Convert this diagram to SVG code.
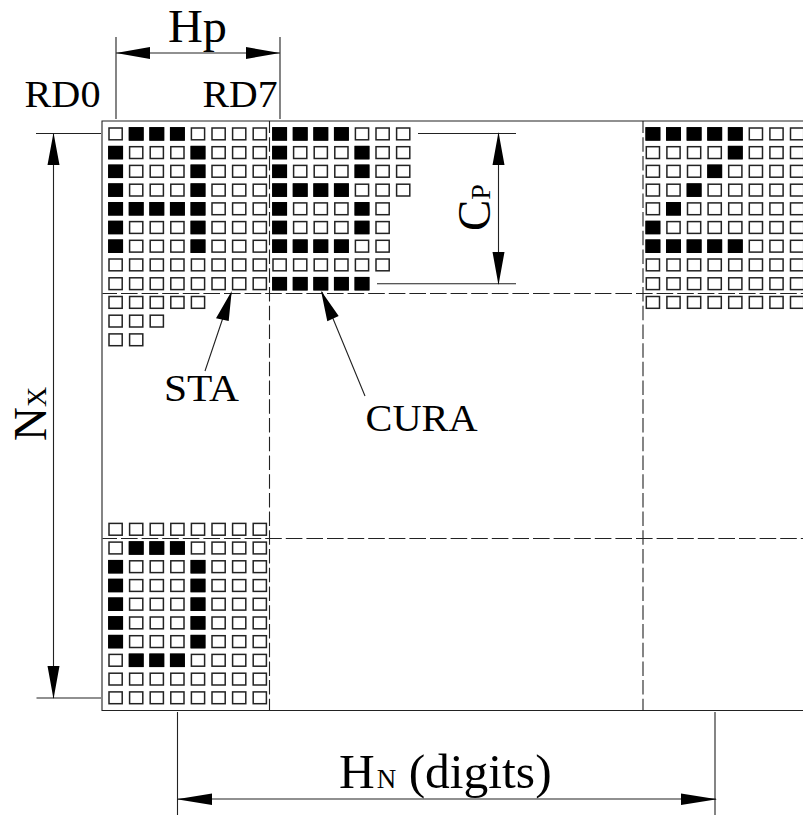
<svg xmlns="http://www.w3.org/2000/svg" width="803" height="815" viewBox="0 0 803 815">
<style>
text{font-family:"Liberation Serif","Times New Roman",serif;fill:#000}
.t{font-size:38px}
.e{fill:#fff;stroke:#222;stroke-width:1.5}
.k{fill:#000;stroke:#000;stroke-width:1.8}
.l{fill:none;stroke:#222;stroke-width:1.1}
.d{stroke-dasharray:16.6 4;stroke-dashoffset:2.1}
.v{stroke-dasharray:14.5 4.22;stroke-dashoffset:2.5}
.a{fill:#000;stroke:none}
</style>
<defs>
<rect id="c" class="e" width="13.2" height="11.8"/>
<rect id="f" class="k" width="13.2" height="11.8"/>
<g id="r2"><use href="#c"/><use href="#c" x="20.6"/></g>
<g id="r3"><use href="#r2"/><use href="#c" x="41.2"/></g>
<g id="r5"><use href="#r3"/><use href="#c" x="61.8"/><use href="#c" x="82.4"/></g>
<g id="r6"><use href="#r5"/><use href="#c" x="103"/></g>
<g id="r7"><use href="#r6"/><use href="#c" x="123.6"/></g>
<g id="r8"><use href="#r7"/><use href="#c" x="144.2"/></g>
</defs>
<rect width="803" height="815" fill="#fff"/>
<g id="frame">
<path class="l" d="M803 121H102V710.5H803"/>
</g>
<g id="block-sta" transform="translate(109,128)">
<use href="#r8"/><use href="#r8" y="18.7"/><use href="#r8" y="37.4"/><use href="#r8" y="56.2"/><use href="#r8" y="74.9"/><use href="#r8" y="93.6"/><use href="#r8" y="112.3"/><use href="#r8" y="131"/><use href="#r8" y="149.8"/>
<use href="#r5" y="168.5"/><use href="#r3" y="187.2"/><use href="#r2" y="205.9"/>
<use href="#f" x="20.6"/><use href="#f" x="41.2"/><use href="#f" x="61.8"/>
<use href="#f" y="18.7"/><use href="#f" x="82.4" y="18.7"/>
<use href="#f" y="37.4"/><use href="#f" x="82.4" y="37.4"/>
<use href="#f" y="56.2"/><use href="#f" x="82.4" y="56.2"/>
<use href="#f" y="74.9"/><use href="#f" x="20.6" y="74.9"/><use href="#f" x="41.2" y="74.9"/><use href="#f" x="61.8" y="74.9"/><use href="#f" x="82.4" y="74.9"/>
<use href="#f" y="93.6"/><use href="#f" x="82.4" y="93.6"/>
<use href="#f" y="112.3"/><use href="#f" x="82.4" y="112.3"/>
</g>
<g id="block-cura" transform="translate(273,128)">
<use href="#r7"/><use href="#r7" y="18.7"/><use href="#r7" y="37.4"/><use href="#r7" y="56.2"/><use href="#r6" y="74.9"/><use href="#r6" y="93.6"/><use href="#r6" y="112.3"/><use href="#r6" y="131"/><use href="#r5" y="149.8"/>
<use href="#f"/><use href="#f" x="20.6"/><use href="#f" x="41.2"/><use href="#f" x="61.8"/>
<use href="#f" y="18.7"/><use href="#f" x="82.4" y="18.7"/>
<use href="#f" y="37.4"/><use href="#f" x="82.4" y="37.4"/>
<use href="#f" y="56.2"/><use href="#f" x="20.6" y="56.2"/><use href="#f" x="41.2" y="56.2"/><use href="#f" x="61.8" y="56.2"/>
<use href="#f" y="74.9"/><use href="#f" x="82.4" y="74.9"/>
<use href="#f" y="93.6"/><use href="#f" x="82.4" y="93.6"/>
<use href="#f" y="112.3"/><use href="#f" x="20.6" y="112.3"/><use href="#f" x="41.2" y="112.3"/><use href="#f" x="61.8" y="112.3"/>
<use href="#f" y="149.8"/><use href="#f" x="20.6" y="149.8"/><use href="#f" x="41.2" y="149.8"/><use href="#f" x="61.8" y="149.8"/><use href="#f" x="82.4" y="149.8"/>
</g>
<g id="block-z" transform="translate(646.3,128)">
<use href="#r8"/><use href="#r8" y="18.7"/><use href="#r8" y="37.4"/><use href="#r8" y="56.2"/><use href="#r8" y="74.9"/><use href="#r8" y="93.6"/><use href="#r8" y="112.3"/><use href="#r8" y="131"/><use href="#r8" y="149.8"/><use href="#r8" y="168.5"/>
<use href="#f"/><use href="#f" x="20.6"/><use href="#f" x="41.2"/><use href="#f" x="61.8"/><use href="#f" x="82.4"/>
<use href="#f" x="82.4" y="18.7"/>
<use href="#f" x="61.8" y="37.4"/>
<use href="#f" x="41.2" y="56.2"/>
<use href="#f" x="20.6" y="74.9"/>
<use href="#f" y="93.6"/>
<use href="#f" y="112.3"/><use href="#f" x="20.6" y="112.3"/><use href="#f" x="41.2" y="112.3"/><use href="#f" x="61.8" y="112.3"/><use href="#f" x="82.4" y="112.3"/>
</g>
<g id="block-o" transform="translate(109,523.4)">
<use href="#r8"/><use href="#r8" y="18.7"/><use href="#r8" y="37.4"/><use href="#r8" y="56.2"/><use href="#r8" y="74.9"/><use href="#r8" y="93.6"/><use href="#r8" y="112.3"/><use href="#r8" y="131"/><use href="#r8" y="149.8"/><use href="#r8" y="168.5"/>
<use href="#f" x="20.6" y="18.7"/><use href="#f" x="41.2" y="18.7"/><use href="#f" x="61.8" y="18.7"/>
<use href="#f" y="37.4"/><use href="#f" x="82.4" y="37.4"/>
<use href="#f" y="56.2"/><use href="#f" x="82.4" y="56.2"/>
<use href="#f" y="74.9"/><use href="#f" x="82.4" y="74.9"/>
<use href="#f" y="93.6"/><use href="#f" x="82.4" y="93.6"/>
<use href="#f" y="112.3"/><use href="#f" x="82.4" y="112.3"/>
<use href="#f" x="20.6" y="131"/><use href="#f" x="41.2" y="131"/><use href="#f" x="61.8" y="131"/>
</g>
<g id="connectors">
<path class="l d" d="M102.5 293.5H803M102.5 538.5H803"/>
<path class="l v" d="M269.5 121V710.5M643 121V710.5"/>
<path class="l" d="M116 37V119M280 37V119M116 53H280M36 133.5H101M36.5 698H101M53.5 133V698M418 133.5H516M377 283.7H516M498.5 133V284M177.5 712V815M715 712V815M177 799H716M205 371L231 294M365 396L322 292"/>
<path class="a" d="M116 53L150 47V59ZM280 53L246 47V59ZM53.5 132.7L47.5 165H59.5ZM53.5 699L47.5 666H59.5ZM498.5 132L492.5 165H504.5ZM498.5 285L492.5 252H504.5ZM176.7 799.3L212 793.6V805ZM717 799.3L681 793.6V805ZM231.7 291L216 318.3L228.7 321ZM321 290.7L327.3 321.3L338.7 316Z"/>
</g>
<g id="labels">
<text x="168" y="41.5" textLength="59" lengthAdjust="spacingAndGlyphs" style="font-size:46.5px">Hp</text>
<text class="t" x="24.5" y="107.3" textLength="76" lengthAdjust="spacingAndGlyphs">RD0</text>
<text class="t" x="202.5" y="107.3" textLength="75" lengthAdjust="spacingAndGlyphs">RD7</text>
<text class="t" x="164" y="401" textLength="75" lengthAdjust="spacingAndGlyphs">STA</text>
<text class="t" x="365.5" y="430.5" textLength="112" lengthAdjust="spacingAndGlyphs">CURA</text>
<text x="339" y="788" style="font-size:49.5px">H<tspan dx="2" style="font-size:27px">N</tspan> (digits)</text>
<text transform="translate(45.5,441) rotate(-90)" style="font-size:47px">N<tspan style="font-size:28px">X</tspan></text>
<text transform="translate(490,231) rotate(-90)" style="font-size:47px">C<tspan style="font-size:28px">P</tspan></text>
</g>
</svg>
